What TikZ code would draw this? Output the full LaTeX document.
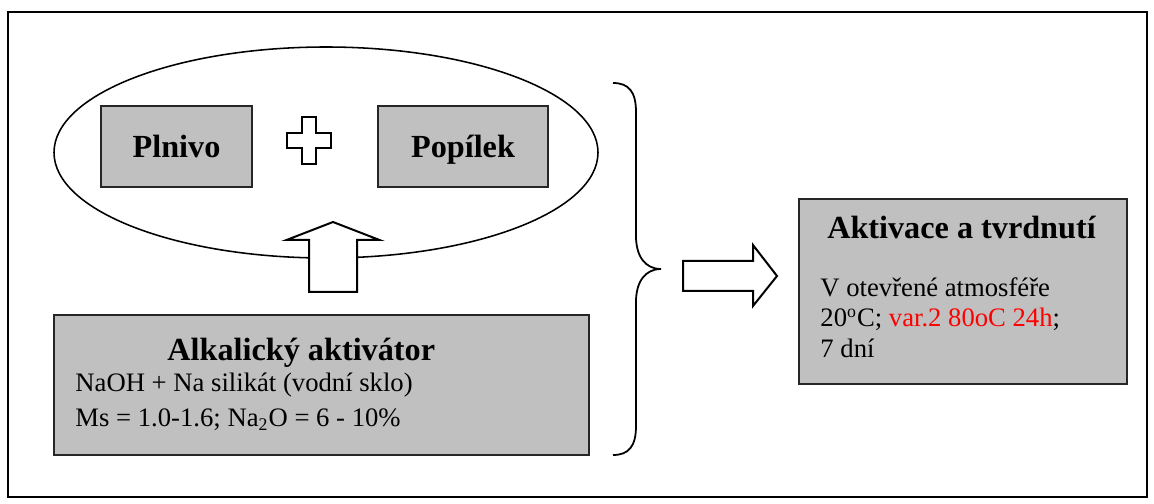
\documentclass[tikz,border=0pt]{standalone}
\usepackage{fontspec}
\setmainfont{Liberation Serif}
\definecolor{boxgray}{HTML}{C0C0C0}
\definecolor{newred}{HTML}{FF0000}
\usetikzlibrary{shapes.geometric, positioning, calc}
\newcommand{\pxu}{0.45pt}

\begin{document}
\begin{tikzpicture}[x = 0.45pt, y = -0.45pt,
	box/.style = {draw = black!85, fill = boxgray, line width = 0.9pt, inner sep = 0pt},
	outline/.style = {draw = black, fill = white, line width = 0.9pt, line join = miter},
	txt/.style = {font = \fontsize{12}{14}\selectfont, inner sep = 0pt, anchor = base west},
	head/.style = {font = \fontsize{14.5}{16}\selectfont\bfseries, inner sep = 0pt}]
	\useasboundingbox (0, 0) rectangle (1154, 504);
	\draw[line width = 1.2pt] (8, 12) rectangle (1147, 497);
	\node[ellipse, draw, line width = 0.7pt, minimum width = 544*\pxu, minimum height = 211*\pxu, inner sep = 0pt] at (326, 152.5) (mix) {};
	\node[box, head, text depth = 0pt, minimum width = 151*\pxu, minimum height = 81*\pxu] at (176.5, 146.5) (plnivo) {Plnivo};
	\node[box, head, text depth = 0pt, minimum width = 170*\pxu, minimum height = 81*\pxu] at (463, 146.5) (popilek) {Popílek};
	\coordinate (plus) at (309, 140.5);
	\draw[outline, shift = {(plus)}] (-7, -23.5) -- (7, -23.5) -- (7, -7.5) -- (22, -7.5) -- (22, 7.5) -- (7, 7.5) -- (7, 23.5) -- (-7, 23.5) -- (-7, 7.5) -- (-22, 7.5) -- (-22, -7.5) -- (-7, -7.5) -- cycle;
	\node[box, minimum width = 535*\pxu, minimum height = 140*\pxu] at (321.5, 385) (aktivator) {};
	\node[head, anchor = base west] at (167, 361) (aktivator-title) {Alkalický aktivátor};
	\node[txt] at (75, 392) (aktivator-l1) {NaOH + Na silikát (vodní sklo)};
	\node[txt] at (75, 427) (aktivator-l2) {Ms = 1.0-1.6; Na\textsubscript{2}O = 6 - 10\%};
	\draw[outline, shift = {(333, 292)}] (-24, 0) -- (-24, -52) -- (-46.5, -52) -- (0, -70) -- (46.5, -52) -- (24, -52) -- (24, 0) -- cycle;
	\draw[line width = 0.8pt] (613, 83) .. controls (629, 83) and (636, 92) .. (636, 112) -- (636, 236) .. controls (636, 256) and (645, 269) .. (661, 269) .. controls (645, 269) and (636, 282) .. (636, 302) -- (636, 426) .. controls (636, 446) and (629, 455) .. (613, 455);
	\draw[outline, shift = {(683, 276)}] (0, -15) -- (70, -15) -- (70, -31) -- (94, 0) -- (70, 30) -- (70, 15) -- (0, 15) -- cycle;
	\node[box, minimum width = 328*\pxu, minimum height = 185*\pxu] at (963, 291.5) (aktivace) {};
	\node[head, anchor = base] at (961.5, 239) (aktivace-title) {Aktivace a tvrdnutí};
	\node[txt] at (820, 297) (aktivace-l1) {V otevřené atmosféře};
	\node[txt] at (820, 327) (aktivace-l2) {20\textsuperscript{o}C; \textcolor{newred}{var.2 80oC 24h};};
	\node[txt] at (820, 357) (aktivace-l3) {7 dní};
\end{tikzpicture}
\end{document}
